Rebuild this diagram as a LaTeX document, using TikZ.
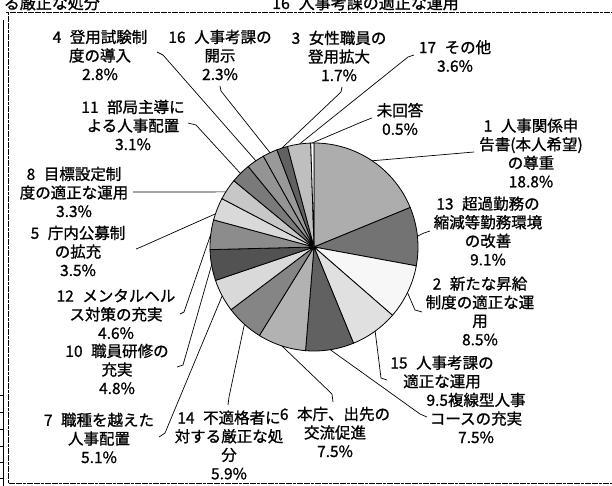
\documentclass[tikz,border=0pt]{standalone}
\usepackage{fontspec}
\setmainfont{Noto Sans CJK JP}[AutoFakeBold=1.0]
\usetikzlibrary{calc}
\newcommand{\gp}{\hspace{0.55em}}
\begin{document}
\begin{tikzpicture}[x=1pt,y=-1pt,
  lbl/.style={align=center, inner sep=0pt, font=\fontsize{15.5}{18.6}\selectfont\bfseries},
  ttl/.style={inner sep=0pt, font=\fontsize{16}{19}\selectfont\bfseries},
  leader/.style={line width=0.7pt},
  slice/.style={draw=black, line width=0.8pt},
  frame/.style={line width=0.9pt, dash pattern=on 3pt off 0.6pt}]
\useasboundingbox (0,0) rectangle (612,486);
\clip (0,0) rectangle (612,486);
\fill[white] (0,0) rectangle (612,486);
% clipped titles
\node[ttl, anchor=base east] (t1) at (100,9) {対する厳正な処分};
\node[ttl, anchor=base west] (t2) at (272,9) {16\gp 人事考課の適正な運用};
% frame
\draw[frame] (6,12) -- (612,12);
\draw[frame] (8,12) -- (8,483) -- (612,483);
\draw[line width=0.8pt] (3.5,20) -- (3.5,486);
\foreach \yy in {395,412,429,446,462,478} \draw[line width=0.6pt] (0,\yy) -- (3.5,\yy);
% pie
\coordinate (c) at (314,247);
\foreach \a/\b/\g in {0/67.68/32, 67.68/100.44/55, 100.44/131.04/3, 131.04/157.68/12,
  157.68/184.68/62, 184.68/211.68/30, 211.68/232.92/48, 232.92/251.28/15,
  251.28/268.56/68, 268.56/285.12/45, 285.12/297.72/15, 297.72/309.6/22,
  309.6/320.76/52, 320.76/330.84/42, 330.84/339.12/40, 339.12/345.24/62,
  345.24/358.2/25, 358.2/360/0}
  \filldraw[slice, fill=black!\g] (c) -- ($(c)+(\a-90:104)$) arc[start angle=\a-90, end angle=\b-90, radius=104] -- cycle;
% edge points
\foreach \n/\p in {1/34, 13/84, 2/116, 15/144, 9/171, 6/198, 14/222, 7/242, 10/260,
  12/277, 5/288.6, 8/302, 11/315, 4/326, 16/335, 3/342, 17/352, 0/359}
  \coordinate (e\n) at ($(c)+(\p-90:104)$);
% labels
\node[lbl] (n4) at (100,55) {4\gp 登用試験制\\度の導入\\2.8\%};
\node[lbl] (n16) at (220,55) {16\gp 人事考課の\\開示\\2.3\%};
\node[lbl] (n3) at (339,56) {3\gp 女性職員の\\登用拡大\\1.7\%};
\node[lbl] (n17) at (455,56) {17\gp その他\\3.6\%};
\node[lbl] (n0) at (400,119) {未回答\\0.5\%};
\node[lbl] (n1) at (531,153) {1\gp 人事関係申\\告書(本人希望)\\の尊重\\18.8\%};
\node[lbl] (n13) at (488,231) {13\gp 超過勤務の\\縮減等勤務環境\\の改善\\9.1\%};
\node[lbl] (n2) at (480,311) {2\gp 新たな昇給\\制度の適正な運\\用\\8.5\%};
\node[lbl] (n15) at (442,372) {15\gp 人事考課の\\適正な運用};
\node[lbl] (n9) at (476,418) {9.5複線型人事\\コースの充実\\7.5\%};
\node[lbl] (n6) at (335,432) {6\gp 本庁、出先の\\交流促進\\7.5\%};
\node[lbl] (n14) at (229,445) {14\gp 不適格者に\\対する厳正な処\\分\\5.9\%};
\node[lbl] (n7) at (99,438) {7\gp 職種を越えた\\人事配置\\5.1\%};
\node[lbl] (n10) at (117,369) {10\gp 職員研修の\\充実\\4.8\%};
\node[lbl] (n12) at (116,314) {12\gp メンタルヘル\\ス対策の充実\\4.6\%};
\node[lbl] (n5) at (78,251) {5\gp 庁内公募制\\の拡充\\3.5\%};
\node[lbl] (n8) at (74,192) {8\gp 目標設定制\\度の適正な運用\\3.3\%};
\node[lbl] (n11) at (133,125) {11\gp 部局主導に\\よる人事配置\\3.1\%};
% leader hook points
\coordinate (h4) at (157,52);   \coordinate (k4) at (163,55);
\coordinate (h16) at (220,86);  \coordinate (k16) at (221,91);
\coordinate (h3) at (342,87);   \coordinate (k3) at (341,92);
\coordinate (h17) at (414,55);  \coordinate (k17) at (408,57);
\coordinate (h0) at (372,118);  \coordinate (k0) at (364,121);
\coordinate (h1) at (474,152);
\coordinate (h13) at (430,231); \coordinate (k13) at (424,233);
\coordinate (h2) at (422,312);  \coordinate (k2) at (415,310);
\coordinate (h15) at (387,380); \coordinate (k15) at (381,378);
\coordinate (h9) at (427,417);  \coordinate (k9) at (420,414);
\coordinate (h6) at (333,402);  \coordinate (k6) at (332,394);
\coordinate (h14) at (228,405); \coordinate (k14) at (229,397);
\coordinate (h7) at (159,437);  \coordinate (k7) at (165,433);
\coordinate (h10) at (177,367); \coordinate (k10) at (183,365);
\coordinate (h12) at (180,314); \coordinate (k12) at (184,312);
\coordinate (h5) at (136,249);  \coordinate (k5) at (141,247);
\coordinate (h8) at (133,192);
\coordinate (h11) at (188,123); \coordinate (k11) at (196,125);
\foreach \n in {4,16,3,17,0,13,2,15,9,6,14,7,10,12,5,11}
  \draw[leader] (h\n) -- (k\n) -- (e\n);
\draw[leader] (h1) -- (e1);
\draw[leader] (h8) -- (e8);
\end{tikzpicture}
\end{document}
